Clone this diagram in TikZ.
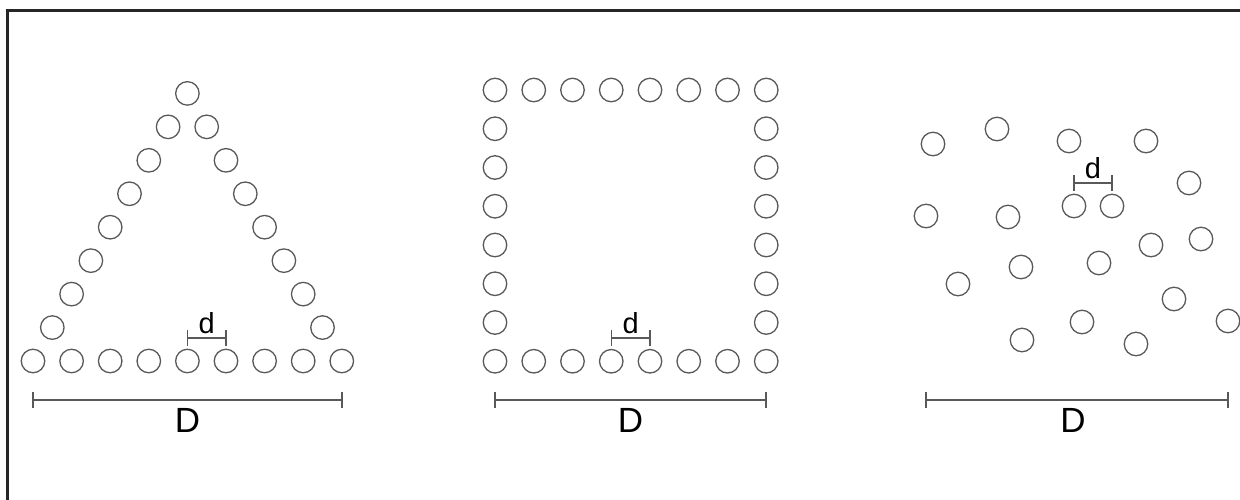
\documentclass[tikz,border=0pt]{standalone}
\usepackage{fontspec}
\setmainfont{Liberation Sans}
\begin{document}
\begin{tikzpicture}[x=1pt,y=-1pt,
  ball/.style={circle,draw=black!65,line width=1.3pt,minimum size=23.5pt,inner sep=0pt},
  dim/.style={draw=black!65,line width=1.4pt},
  small/.style={font=\fontsize{29}{29}\selectfont,inner sep=0pt},
  big/.style={font=\fontsize{35}{35}\selectfont,inner sep=0pt}]
\useasboundingbox (0,0) rectangle (1240,499);
\clip (0,0) rectangle (1240,499);
\draw[draw=black!85,line width=3pt] (7,505) -- (7,10) -- (1250,10);

% triangle
\foreach \i in {0,...,8} \node[ball] (tb\i) at ({33+38.6*\i},361) {};
\foreach \k in {1,...,8} \node[ball] (tl\k) at ({33+19.3*\k},{361-33.45*\k}) {};
\foreach \k in {1,...,7} \node[ball] (tr\k) at ({341.8-19.3*\k},{361-33.45*\k}) {};
\coordinate (td1) at (187.4,338); \coordinate (td2) at (226,338);
\draw[dim] (td1) -- (td2);
\draw[dim] ([yshift=-8pt]td1) -- ([yshift=8pt]td1);
\draw[dim] ([yshift=-8pt]td2) -- ([yshift=8pt]td2);
\node[small,anchor=base] (tdl) at (206.7,333) {d};
\coordinate (tD1) at (33,400); \coordinate (tD2) at (342,400);
\draw[dim] (tD1) -- (tD2);
\draw[dim] ([yshift=-8pt]tD1) -- ([yshift=8pt]tD1);
\draw[dim] ([yshift=-8pt]tD2) -- ([yshift=8pt]tD2);
\node[big,anchor=base] (tDl) at (187.5,432) {D};

% square
\foreach \i in {0,...,7} {
  \node[ball] (st\i) at ({495+38.75*\i},90) {};
  \node[ball] (sb\i) at ({495+38.75*\i},361.25) {};
}
\foreach \j in {1,...,6} {
  \node[ball] (sl\j) at (495,{90+38.75*\j}) {};
  \node[ball] (sr\j) at (766.25,{90+38.75*\j}) {};
}
\coordinate (sd1) at (611.25,338); \coordinate (sd2) at (650,338);
\draw[dim] (sd1) -- (sd2);
\draw[dim] ([yshift=-8pt]sd1) -- ([yshift=8pt]sd1);
\draw[dim] ([yshift=-8pt]sd2) -- ([yshift=8pt]sd2);
\node[small,anchor=base] (sdl) at (630.6,333) {d};
\coordinate (sD1) at (495,400); \coordinate (sD2) at (766,400);
\draw[dim] (sD1) -- (sD2);
\draw[dim] ([yshift=-8pt]sD1) -- ([yshift=8pt]sD1);
\draw[dim] ([yshift=-8pt]sD2) -- ([yshift=8pt]sD2);
\node[big,anchor=base] (sDl) at (630.5,432) {D};

% random
\foreach \x/\y [count=\n] in {933/144,997/129,1069/141,1146/141,1189/183,926/216,1008/217,1074/206,1112/206,1201/239,1151/245,1099/263,1021/267,958/284,1174/299,1228/321,1082/322,1022/340,1136/344}
  \node[ball] (r\n) at (\x,\y) {};
\coordinate (rd1) at (1074,183); \coordinate (rd2) at (1112,183);
\draw[dim] (rd1) -- (rd2);
\draw[dim] ([yshift=-8pt]rd1) -- ([yshift=8pt]rd1);
\draw[dim] ([yshift=-8pt]rd2) -- ([yshift=8pt]rd2);
\node[small,anchor=base] (rdl) at (1093,178) {d};
\coordinate (rD1) at (926,400); \coordinate (rD2) at (1228,400);
\draw[dim] (rD1) -- (rD2);
\draw[dim] ([yshift=-8pt]rD1) -- ([yshift=8pt]rD1);
\draw[dim] ([yshift=-8pt]rD2) -- ([yshift=8pt]rD2);
\node[big,anchor=base] (rDl) at (1073,432) {D};
\end{tikzpicture}
\end{document}
